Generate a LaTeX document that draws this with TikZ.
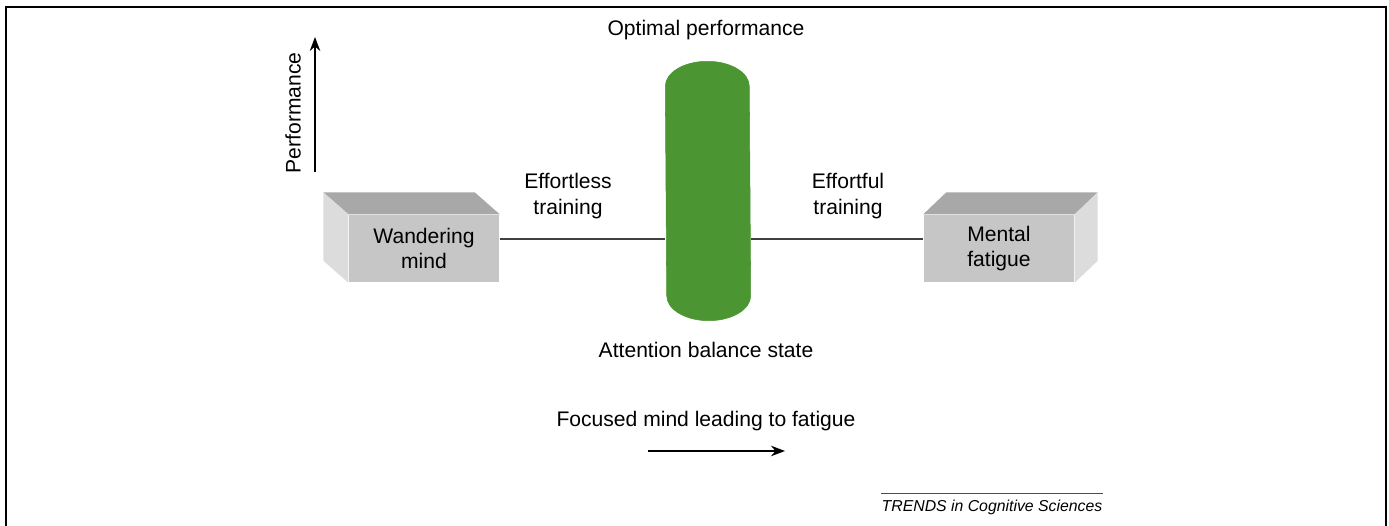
\documentclass[tikz,border=0pt]{standalone}
\usepackage{fontspec}
\setmainfont{Liberation Sans}
\usetikzlibrary{arrows.meta}

\definecolor{balgreen}{RGB}{75,150,50}
\definecolor{boxtop}{RGB}{168,168,168}
\definecolor{boxfront}{RGB}{198,198,198}
\definecolor{boxside}{RGB}{220,220,220}

\begin{document}
\begin{tikzpicture}[thick]
        \tikzstyle{every node}=[font=\fontsize{12}{14.5}\selectfont, align=center]
        \tikzstyle{block}=[fill=boxfront, minimum width=3cm, minimum height=1.34cm, inner sep=0]
        \tikzstyle{link}=[draw=black!75, line width=.8pt]
        \tikzstyle{axis}=[-{Stealth[length=8pt,width=6pt]}, line width=.9pt]
        \useasboundingbox (0,0) rectangle (27.78,10.52);
        % open frame
        \draw[line width=1.1pt] (0.12,0) -- (0.12,10.38) -- (27.72,10.38) -- (27.72,0);

        % the two blocks, front faces first
        \node [block] (wand) at (8.48,5.55) {Wandering\\mind};
        \node [block] (fat) at (19.98,5.55) {Mental\\fatigue};
        \fill[boxtop] (wand.north west) -- ++(-0.5,0.44) -- ([shift={(-0.5,0.44)}]wand.north east) -- (wand.north east) -- cycle;
        \fill[boxside] (wand.north west) -- ++(-0.5,0.44) -- ([shift={(-0.5,0.44)}]wand.south west) -- (wand.south west) -- cycle;
        \fill[boxtop] (fat.north west) -- ++(0.46,0.44) -- ([shift={(0.46,0.44)}]fat.north east) -- (fat.north east) -- cycle;
        \fill[boxside] (fat.north east) -- ++(0.46,0.44) -- ([shift={(0.46,0.44)}]fat.south east) -- (fat.south east) -- cycle;

        % balance column
        \node [minimum width=1.68cm, minimum height=5.16cm, inner sep=0] (bal) at (14.16,6.70) {};
        \filldraw[balgreen, line width=.3pt] ([yshift=-.5cm]bal.north west) arc[start angle=180, end angle=0, x radius=.84cm, y radius=.5cm]
          -- ([yshift=.5cm]bal.south east) arc[start angle=0, end angle=-180, x radius=.84cm, y radius=.5cm] -- cycle;

        \draw[link] ([yshift=.19cm]wand.east) -- ([yshift=.19cm]wand.east -| bal.west);
        \draw[link] ([yshift=.19cm]fat.west) -- ([yshift=.19cm]fat.west -| bal.east);

        \node (opt) at (14.12,9.92) {Optimal performance};
        \node (state) at (14.12,3.52) {Attention balance state};
        \node (less) at (11.36,6.6) {Effortless\\training};
        \node (ful) at (16.96,6.6) {Effortful\\training};

        % performance axis
        \node [rotate=90] (perf) at (5.86,8.26) {Performance};
        \coordinate (p0) at (6.3,7.08);
        \coordinate (p1) at (6.3,9.78);
        \draw[axis] (p0) -- (p1);

        \node (focus) at (14.12,2.1) {Focused mind leading to fatigue};
        \coordinate (f0) at (12.96,1.5);
        \coordinate (f1) at (15.7,1.5);
        \draw[axis] (f0) -- (f1);

        \node [font=\fontsize{9}{11}\selectfont\itshape, inner sep=0] (src) at (19.84,0.38) {TRENDS in Cognitive Sciences};
        \draw[line width=.6pt, black!70] ([yshift=3pt]src.north west) -- ([yshift=3pt]src.north east);
      \end{tikzpicture}
\end{document}
